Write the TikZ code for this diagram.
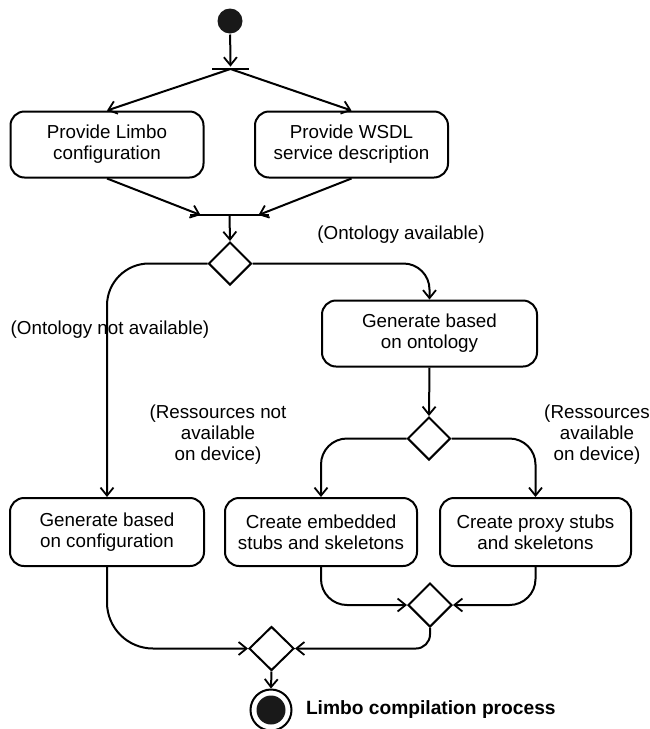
\documentclass[tikz,border=0pt]{standalone}
\usepackage{fontspec}
\setmainfont{Liberation Sans}
\usetikzlibrary{shapes.geometric,arrows.meta,calc}
\begin{document}
\begin{tikzpicture}[x=1pt,y=-1pt,
  font=\fontsize{18.8}{21}\selectfont,
  line width=2pt,
  >={Straight Barb[length=8pt,width=13pt,line width=1.8pt]},
  act/.style={draw,rounded corners=14pt,align=center,minimum height=66pt,inner sep=2pt},
  dec/.style={draw,diamond,minimum width=43pt,minimum height=43pt,inner sep=0pt},
  bar/.style={fill=black,minimum height=2.8pt,inner sep=0pt},
  lbl/.style={align=center,inner sep=0pt}]
\useasboundingbox (0,0) rectangle (649,729);
\node[circle,fill=black!90,minimum size=25pt,inner sep=0pt] (start) at (230,21) {};
\node[bar,minimum width=37pt] (fork) at (230.5,69) {};
\node[act,minimum width=193pt] (b1) at (107,144.5) {Provide Limbo\\configuration};
\node[act,minimum width=193pt] (b2) at (351.5,144.5) {Provide WSDL\\service description};
\node[bar,minimum width=79pt] (join) at (229.5,215) {};
\node[dec] (d1) at (230,263.5) {};
\node[act,minimum width=215pt] (b3) at (429.5,333.5) {Generate based\\on ontology};
\node[dec] (d2) at (429,438.5) {};
\node[act,minimum width=194pt,minimum height=68pt] (b4) at (107,532) {Generate based\\on configuration};
\node[act,minimum width=192pt,minimum height=68pt] (b5) at (321,532) {Create embedded\\stubs and skeletons};
\node[act,minimum width=191pt,minimum height=68pt] (b6) at (535.5,532) {Create proxy stubs\\and skeletons};
\node[dec,minimum width=44pt,minimum height=44pt] (d3) at (430,605) {};
\node[dec,minimum width=45pt,minimum height=44pt] (d4) at (271.5,648.5) {};
\node[circle,draw,minimum size=41pt,inner sep=0pt] (end) at (271,710) {};
\node[circle,fill=black!90,minimum size=29pt,inner sep=0pt] (endin) at (end.center) {};
\node[lbl,anchor=west,font=\fontsize{19.2}{21}\selectfont\bfseries] (endlbl) at (305,710) {Limbo compilation process};

\node[lbl] (l1) at (401,235) {(Ontology available)};
\node[lbl] (l2) at (110,330) {(Ontology not available)};
\node[lbl] (l3) at (218,435) {(Ressources not\\available\\on device)};
\node[lbl] (l4) at (597,435) {(Ressources\\available\\on device)};

\draw[->] (start) -- (fork);
\draw[->] (fork.center) -- (b1.north);
\draw[->] (fork.center) -- (b2.north);
\draw[->] (b1.south) -- ($(join.center)+(-29,0)$);
\draw[->] (b2.south) -- ($(join.center)+(29,0)$);
\draw[->] (join.center) -- (d1.north);
\draw[->,rounded corners=26pt] (d1.east) -| (b3.north);
\draw[->,rounded corners=42pt] (d1.west) -| (b4.north);
\draw[->] (b3.south) -- (d2.north);
\draw[->,rounded corners=26pt] (d2.west) -| (b5.north);
\draw[->,rounded corners=26pt] (d2.east) -| (b6.north);
\draw[->,rounded corners=26pt] (b5.south) |- (d3.west);
\draw[->,rounded corners=26pt] (b6.south) |- (d3.east);
\draw[->,rounded corners=14pt] (d3.south) |- (d4.east);
\draw[->,rounded corners=46pt] (b4.south) |- (d4.west);
\draw[->] (d4.south) -- (end.north);
\end{tikzpicture}
\end{document}
